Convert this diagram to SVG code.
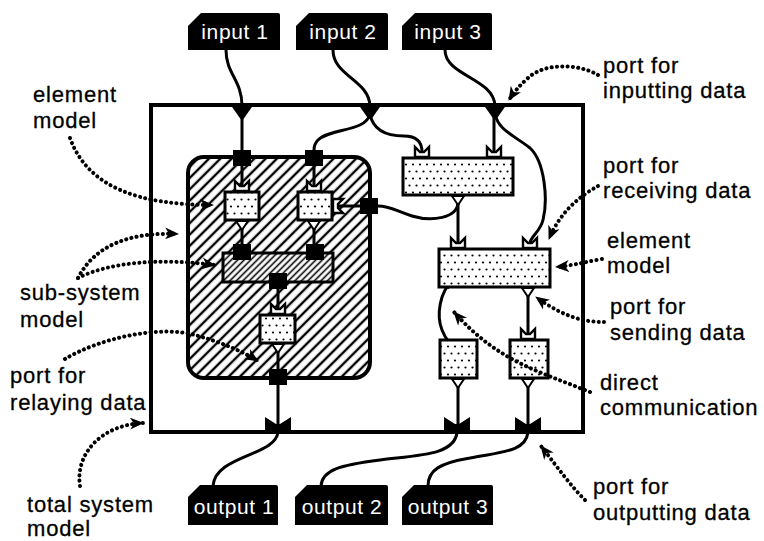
<svg xmlns="http://www.w3.org/2000/svg" width="764" height="541" viewBox="0 0 764 541">
  <style>
    .wire { fill: none; stroke: #000; stroke-width: 3; stroke-linecap: round; }
    .note { fill: none; stroke: #000; stroke-width: 4; stroke-linecap: round; stroke-dasharray: 0.1 5.2; }
    .box { stroke: #000; stroke-width: 3; }
    .tag { fill: #000; }
    .tagtext { font-family: "Liberation Sans", Arial, sans-serif; font-size: 21px; fill: #fff; letter-spacing: 0.6px; text-anchor: middle; }
    .label { font-family: "Liberation Sans", Arial, sans-serif; font-size: 22px; fill: #000; stroke: #000; stroke-width: 0.3; letter-spacing: 0.8px; }
  </style>
  <defs>
    <pattern id="hatch" width="8" height="8" patternUnits="userSpaceOnUse" patternTransform="rotate(45)">
      <rect width="8" height="8" fill="#fff"/>
      <line x1="4" y1="0" x2="4" y2="8" stroke="#000" stroke-width="2.4"/>
    </pattern>
    <pattern id="hatchFine" width="4.6" height="4.6" patternUnits="userSpaceOnUse" patternTransform="rotate(45)">
      <rect width="4.6" height="4.6" fill="#fff"/>
      <line x1="2.3" y1="0" x2="2.3" y2="4.6" stroke="#000" stroke-width="1.6"/>
    </pattern>
    <pattern id="dots" width="14" height="14" patternUnits="userSpaceOnUse">
      <rect width="14" height="14" fill="#fff"/>
      <circle cx="3.5" cy="3.5" r="1.1" fill="#000"/>
      <circle cx="10.5" cy="3.5" r="1.1" fill="#000"/>
      <circle cx="0" cy="10.5" r="1.1" fill="#000"/>
      <circle cx="7" cy="10.5" r="1.1" fill="#000"/>
      <circle cx="14" cy="10.5" r="1.1" fill="#000"/>
    </pattern>
    <marker id="arrow" markerUnits="userSpaceOnUse" markerWidth="16" markerHeight="12" refX="13" refY="6" orient="auto">
      <path d="M0,0 L14,6 L0,12 L4,6 Z" fill="#000"/>
    </marker>
    <marker id="tip" markerUnits="userSpaceOnUse" markerWidth="10" markerHeight="8" refX="8" refY="4" orient="auto-start-reverse">
      <path d="M0,0 L9,4 L0,8 Z" fill="#000"/>
    </marker>
    <!-- port glyphs -->
    <path id="receive" d="M-7,0 V-10 L-2,-5 H2 L7,-10 V0 Z" fill="#fff" stroke="#000" stroke-width="2.4" stroke-linejoin="miter"/>
    <path id="send" d="M-6,0 H6 L0,9 Z" fill="#fff" stroke="#000" stroke-width="2"/>
    <path id="inport" d="M-12,0 H12 L1.5,15 H-1.5 Z" fill="#000"/>
    <path id="outport" d="M-13,0 V-15 L-2,-8 H2 L13,-15 V0 Z" fill="#000"/>
    <rect id="relay" x="-9" y="-8" width="18" height="16" fill="#000"/>
  </defs>

  <rect width="764" height="541" fill="#fff"/>

  <!-- total system -->
  <g id="total-system">
    <rect x="151" y="105" width="432" height="327" fill="none" stroke="#000" stroke-width="4"/>
  </g>

  <!-- sub-system -->
  <g id="sub-system">
    <rect x="188" y="157" width="182" height="221" rx="16" fill="url(#hatch)" stroke="#000" stroke-width="4"/>
  </g>

  <!-- connectors -->
  <g id="connectors">
    <path class="wire" d="M226,50 C226,74 242,80 242,106"/>
    <path class="wire" d="M242,116 V150"/>
    <path class="wire" d="M333,50 C333,76 369,80 370,106"/>
    <path class="wire" d="M370,114 C366,132 330,128 318,140 C315,143 314,146 314,150"/>
    <path class="wire" d="M370,114 C373,130 386,136 404,136 C416,136 422,141 422,152"/>
    <path class="wire" d="M445,50 C445,76 494,78 495,106"/>
    <path class="wire" d="M494,114 V152"/>
    <path class="wire" d="M495,114 C498,130 515,136 530,148 C545,162 548,200 543,220 C540,232 531,236 530,243"/>
    <path class="wire" d="M242,166 V186"/>
    <path class="wire" d="M314,166 V186"/>
    <path class="wire" d="M242,228 V244"/>
    <path class="wire" d="M314,228 V244"/>
    <path class="wire" d="M278,288 V309"/>
    <path class="wire" d="M278,351 V369"/>
    <path class="wire" d="M278,385 V424"/>
    <path class="wire" d="M278,432 C276,456 215,455 213,486"/>
    <path class="wire" d="M457,432 C455,455 420,455 380,460 C340,465 322,470 321,486"/>
    <path class="wire" d="M528,432 C526,452 500,452 470,458 C440,463 428,470 428,486"/>
    <path class="wire" d="M458,203 C457,218 432,222 412,216 C396,211 390,206 378,206"/>
    <path class="wire" d="M360,206 H338"/>
    <path class="wire" d="M458,203 V243"/>
    <path class="wire" d="M528,295 V335"/>
    <path class="wire" d="M458,386 V424"/>
    <path class="wire" d="M528,386 V424"/>
    <path class="wire" d="M452,281 C440,292 436,315 442,330 C446,340 450,344 457,348" marker-start="url(#tip)" marker-end="url(#tip)"/>
  </g>

  <!-- ports on the total system boundary -->
  <g id="system-ports">
    <use href="#inport" x="242" y="104"/>
    <use href="#inport" x="370" y="104"/>
    <use href="#inport" x="495" y="104"/>
    <use href="#outport" x="278" y="432"/>
    <use href="#outport" x="457" y="432"/>
    <use href="#outport" x="528" y="432"/>
  </g>

  <!-- relay ports of the sub-system -->
  <g id="relay-ports">
    <use href="#relay" x="242" y="158"/>
    <use href="#relay" x="314" y="158"/>
    <use href="#relay" x="369" y="206"/>
    <use href="#relay" x="278" y="377"/>
  </g>

  <!-- elements inside the sub-system -->
  <g id="element-a">
    <rect class="box" x="225" y="192" width="34" height="28" fill="url(#dots)"/>
    <use href="#receive" x="242" y="191"/>
    <use href="#send" x="242" y="221"/>
  </g>
  <g id="element-b">
    <rect class="box" x="298" y="192" width="34" height="28" fill="url(#dots)"/>
    <use href="#receive" x="314" y="191"/>
    <use href="#receive" transform="translate(333,206) rotate(90)"/>
    <use href="#send" x="314" y="221"/>
  </g>
  <g id="inner-sub-system">
    <rect x="223" y="253" width="110" height="29" fill="url(#hatchFine)" stroke="#000" stroke-width="3"/>
    <use href="#relay" x="242" y="252"/>
    <use href="#relay" x="315" y="252"/>
    <use href="#relay" x="278" y="281"/>
  </g>
  <g id="element-c">
    <rect class="box" x="260" y="315" width="35" height="28" fill="url(#dots)"/>
    <use href="#receive" x="278" y="314"/>
    <use href="#send" x="278" y="344"/>
  </g>

  <!-- elements outside the sub-system -->
  <g id="element-1">
    <rect class="box" x="403" y="158" width="110" height="37" fill="url(#dots)"/>
    <use href="#receive" x="422" y="157"/>
    <use href="#receive" x="494" y="157"/>
    <use href="#send" x="458" y="196"/>
  </g>
  <g id="element-2">
    <rect class="box" x="439" y="249" width="111" height="38" fill="url(#dots)"/>
    <use href="#receive" x="458" y="248"/>
    <use href="#receive" x="530" y="248"/>
    <use href="#send" x="528" y="288"/>
  </g>
  <g id="element-d">
    <rect class="box" x="440" y="340" width="37" height="38" fill="url(#dots)"/>
    <use href="#send" x="458" y="379"/>
  </g>
  <g id="element-e">
    <rect class="box" x="510" y="340" width="38" height="38" fill="url(#dots)"/>
    <use href="#receive" x="528" y="339"/>
    <use href="#send" x="528" y="379"/>
  </g>

  <!-- terminals -->
  <g id="input-1">
    <path class="tag" d="M201,13 H278 Q280,13 280,15 V50 H188 V26 Z"/>
    <text class="tagtext" x="235" y="39">input 1</text>
  </g>
  <g id="input-2">
    <path class="tag" d="M309,13 H386 Q388,13 388,15 V50 H296 V26 Z"/>
    <text class="tagtext" x="343" y="39">input 2</text>
  </g>
  <g id="input-3">
    <path class="tag" d="M415,13 H490 Q492,13 492,15 V50 H402 V26 Z"/>
    <text class="tagtext" x="448" y="39">input 3</text>
  </g>
  <g id="output-1">
    <path class="tag" d="M200,485 H276 Q278,485 278,487 V525 H188 V497 Z"/>
    <text class="tagtext" x="234" y="514">output 1</text>
  </g>
  <g id="output-2">
    <path class="tag" d="M307,485 H386 Q388,485 388,487 V525 H295 V497 Z"/>
    <text class="tagtext" x="342" y="514">output 2</text>
  </g>
  <g id="output-3">
    <path class="tag" d="M414,485 H491 Q493,485 493,487 V525 H402 V497 Z"/>
    <text class="tagtext" x="448" y="514">output 3</text>
  </g>

  <!-- annotations -->
  <g id="annotations">
    <path class="note" d="M70,138 C88,188 140,205 213,205" marker-end="url(#arrow)"/>
    <path class="note" d="M78,278 C95,245 130,232 178,234" marker-end="url(#arrow)"/>
    <path class="note" d="M78,278 C110,262 160,258 215,265" marker-end="url(#arrow)"/>
    <path class="note" d="M65,359 C100,338 160,325 195,335 C220,342 240,350 258,361" marker-end="url(#arrow)"/>
    <path class="note" d="M80,486 C75,455 100,425 143,423" marker-end="url(#arrow)"/>
    <path class="note" d="M598,75 C580,64 545,62 528,78 C520,85 514,92 509,100" marker-end="url(#arrow)"/>
    <path class="note" d="M598,186 C580,196 560,212 549,239" marker-end="url(#arrow)"/>
    <path class="note" d="M602,259 C585,262 570,266 556,267" marker-end="url(#arrow)"/>
    <path class="note" d="M604,322 C585,322 565,318 536,297" marker-end="url(#arrow)"/>
    <path class="note" d="M590,392 C560,380 530,370 505,355 C485,343 468,328 454,312" marker-end="url(#arrow)"/>
    <path class="note" d="M585,500 C570,485 558,468 541,446" marker-end="url(#arrow)"/>
  </g>

  <!-- labels -->
  <g id="labels">
    <text class="label" x="33" y="102">element</text>
    <text class="label" x="33" y="128">model</text>
    <text class="label" x="20" y="300">sub-system</text>
    <text class="label" x="20" y="327">model</text>
    <text class="label" x="10" y="383">port for</text>
    <text class="label" x="10" y="410">relaying data</text>
    <text class="label" x="27" y="512">total system</text>
    <text class="label" x="27" y="536">model</text>
    <text class="label" x="603" y="73">port for</text>
    <text class="label" x="603" y="98">inputting data</text>
    <text class="label" x="603" y="173">port for</text>
    <text class="label" x="603" y="198">receiving data</text>
    <text class="label" x="607" y="248">element</text>
    <text class="label" x="607" y="273">model</text>
    <text class="label" x="610" y="314">port for</text>
    <text class="label" x="610" y="340">sending data</text>
    <text class="label" x="600" y="390">direct</text>
    <text class="label" x="600" y="415">communication</text>
    <text class="label" x="593" y="494">port for</text>
    <text class="label" x="593" y="520">outputting data</text>
  </g>
</svg>
